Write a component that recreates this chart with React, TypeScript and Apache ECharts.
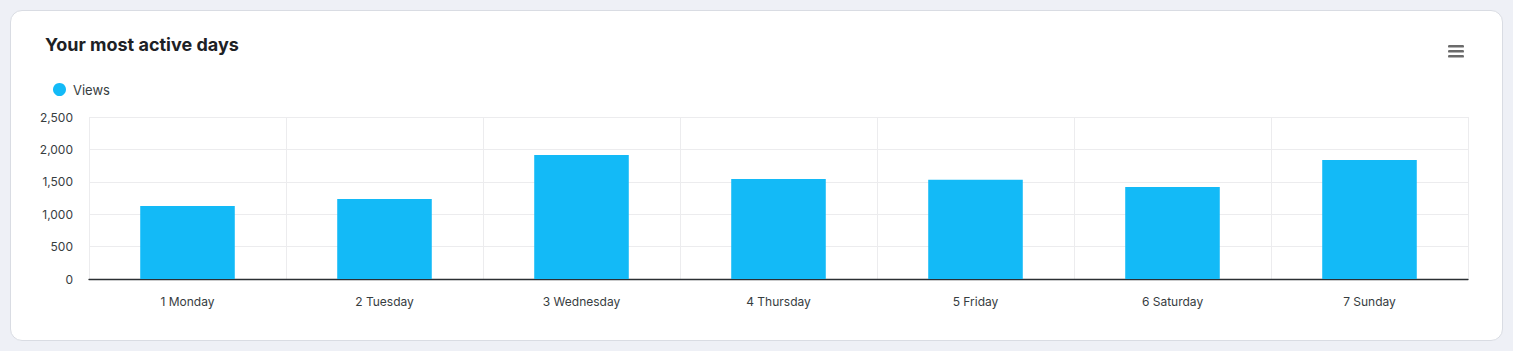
import React, { useEffect, useRef } from "react";
import * as echarts from "echarts";

const titleText = "Your most active days";
const seriesName = "Views";
const categories = ["1 Monday", "2 Tuesday", "3 Wednesday", "4 Thursday", "5 Friday", "6 Saturday", "7 Sunday"];
const views = [1125, 1235, 1915, 1545, 1530, 1420, 1835];
const yTicks = { min: 0, max: 2500, interval: 500 };

export default function App() {
  const ref = useRef<HTMLDivElement>(null);
  useEffect(() => {
    if (!ref.current) return;
    const chart = echarts.init(ref.current, null, { renderer: "svg" });
    const font = "Inter, 'Noto Sans', sans-serif";
    chart.setOption({
      animation: false,
      textStyle: { fontFamily: font },
      title: {
        text: titleText,
        left: 45,
        top: 35,
        padding: 0,
        textStyle: { fontFamily: font, fontSize: 18, fontWeight: 700, color: "#1d2125" },
      },
      legend: {
        left: 53,
        top: 83,
        padding: 0,
        icon: "circle",
        itemWidth: 13,
        itemHeight: 13,
        itemGap: 10,
        textStyle: { fontFamily: font, fontSize: 13, color: "#373d3f", padding: [0, 0, 0, 2] },
        data: [seriesName],
      },
      grid: { left: 89, right: 45, top: 117, bottom: 72, containLabel: false },
      xAxis: {
        type: "category",
        data: categories,
        axisLine: { lineStyle: { color: "#2b2f33", width: 1.3 } },
        axisTick: { show: false },
        axisLabel: { fontFamily: font, fontSize: 12, color: "#373d3f", margin: 16 },
        splitLine: { show: true, lineStyle: { color: "#ececee", width: 1 } },
      },
      yAxis: {
        type: "value",
        min: yTicks.min,
        max: yTicks.max,
        interval: yTicks.interval,
        axisLine: { show: false },
        axisTick: { show: false },
        axisLabel: {
          fontFamily: font,
          fontSize: 12,
          color: "#373d3f",
          margin: 16,
          formatter: (v: number) => v.toLocaleString("en-US"),
        },
        splitLine: { lineStyle: { color: "#ececee", width: 1 } },
      },
      graphic: [0, 5, 10].map((dy) => ({
        type: "rect",
        shape: { x: 1448, y: 45 + dy, width: 16, height: 2.6, r: 1.2 },
        style: { fill: "#6b6b6b" },
      })),
      series: [
        {
          name: seriesName,
          type: "bar",
          data: views,
          barWidth: "48%",
          itemStyle: { color: "#13baf7" },
        },
      ],
    });
    return () => chart.dispose();
  }, []);

  return (
    <div style={{ position: "fixed", left: 0, top: 0, width: 1513, height: 351, background: "#eef0f6" }}>
      <div
        style={{
          position: "absolute",
          left: 10,
          top: 10,
          width: 1491,
          height: 329,
          background: "#ffffff",
          border: "1px solid #d9dce3",
          borderRadius: 12,
        }}
      />
      <div ref={ref} style={{ position: "absolute", left: 0, top: 0, width: 1513, height: 351 }} />
    </div>
  );
}
